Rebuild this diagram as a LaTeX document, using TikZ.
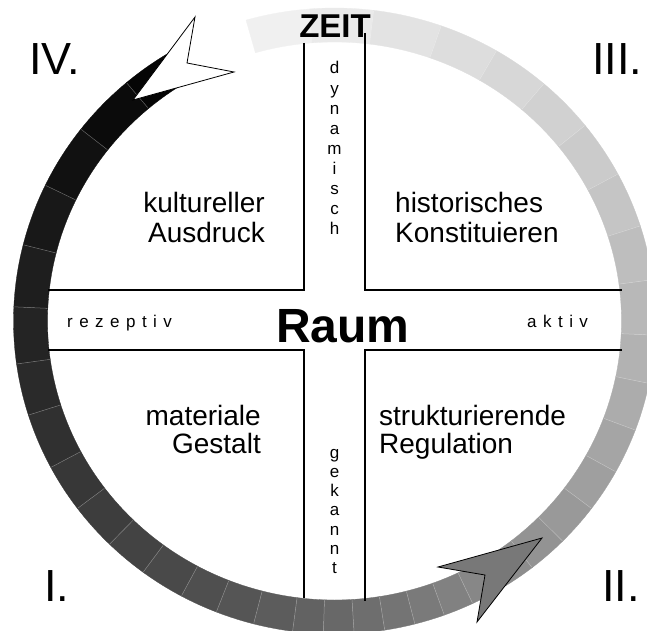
\documentclass[tikz,border=0pt]{standalone}
\usepackage{fontspec}
\setmainfont{Liberation Sans}
\begin{document}
\begin{tikzpicture}[x=1pt,y=1pt,
  lbl/.style={font=\fontsize{28}{30}\selectfont, inner sep=0pt},
  num/.style={font=\fontsize{45}{48}\selectfont, inner sep=0pt},
  vlet/.style={font=\fontsize{17}{19}\selectfont, inner sep=0pt},
  spaced/.style={font=\fontsize{17}{19}\selectfont\addfontfeature{LetterSpace=38}, inner sep=0pt},
  crossline/.style={line width=1.3pt},
  seam/.style={white, opacity=0.35, line width=0.5pt},
  arrowhd/.style={draw=black, line width=0.8pt, line join=miter}]
\useasboundingbox (0,0) rectangle (647,630);
\coordinate (C) at (334.5,309);
% ring of graded segments
\begin{scope}[shift={(C)}]
  \foreach \a/\b [count=\i from 0] in {106/94.5, 94.5/83, 83/70.6, 70.6/59.7, 59.7/49.3, 49.3/38.7, 38.7/28, 28/17.7, 17.7/7.6, 7.6/-2.6, -2.6/-11.5, -11.5/-20.4, -20.4/-28.8, -28.8/-36.8, -36.8/-44.7, -44.7/-52, -52/-58.5, -58.5/-64.5, -64.5/-70, -70/-75.5, -75.5/-81, -81/-86.5, -86.5/-92, -92/-97.5, -97.5/-104.6, -104.6/-111.6, -111.6/-118.5, -118.5/-126.6, -126.6/-134.5, -134.5/-143.2, -143.2/-152.1, -152.1/-162.5, -162.5/-172.1, -172.1/-182.6, -182.6/-194.1, -194.1/-205.7, -205.7/-217.8, -217.8/-229.6, -229.6/-239.5}{
    \pgfmathsetmacro{\k}{6+\i*92/38}
    \fill[black!\k, draw=black!\k, line width=0.3pt] (\a:321pt and 313pt) arc[start angle=\a, end angle=\b, x radius=321pt, y radius=313pt] -- (\b:287pt and 279pt) arc[start angle=\b, end angle=\a, x radius=287pt, y radius=279pt] -- cycle;
  }
  \foreach \s in {94.5, 83, 70.6, 59.7, 49.3, 38.7, 28, 17.7, 7.6, -2.6, -11.5, -20.4, -28.8, -36.8, -44.7, -52, -58.5, -64.5, -70, -75.5, -81, -86.5, -92, -97.5, -104.6, -111.6, -118.5, -126.6, -134.5, -143.2, -152.1, -162.5, -172.1, -182.6, -194.1, -205.7, -217.8, -229.6}{
    \draw[seam] (\s:287.5pt and 279.5pt) -- (\s:320.5pt and 312.5pt);
  }
\end{scope}
% cross
\coordinate (tl1) at (304,587); \coordinate (tl2) at (304,340); \coordinate (tl3) at (48,340);
\coordinate (tr1) at (365,597); \coordinate (tr2) at (365,340); \coordinate (tr3) at (622,340);
\coordinate (bl1) at (48,280); \coordinate (bl2) at (304,280); \coordinate (bl3) at (304,32);
\coordinate (br1) at (622,280); \coordinate (br2) at (365,280); \coordinate (br3) at (365,29);
\draw[crossline] (tl1) -- (tl2) -- (tl3);
\draw[crossline] (tr1) -- (tr2) -- (tr3);
\draw[crossline] (bl1) -- (bl2) -- (bl3);
\draw[crossline] (br1) -- (br2) -- (br3);
% arrowheads
\coordinate (wt) at (133,530); \coordinate (wb1) at (195,613); \coordinate (wn) at (187,567); \coordinate (wb2) at (234,558);
\draw[arrowhd, fill=white] (wt) -- (wb1) -- (wn) -- (wb2) -- cycle;
\coordinate (gt) at (542,92); \coordinate (gb1) at (438,63); \coordinate (gn) at (485,55); \coordinate (gb2) at (477,8);
\draw[arrowhd, fill=black!53] (gt) -- (gb1) -- (gn) -- (gb2) -- cycle;
% texts
\node[font=\fontsize{33}{36}\selectfont\bfseries, inner sep=0pt, anchor=base] (zeit) at (335,592) {ZEIT};
\node[font=\fontsize{48}{52}\selectfont\bfseries, inner sep=0pt, anchor=base] (raum) at (343,288) {Raum};
\node[num, anchor=base west] (n4) at (29,555) {IV.};
\node[num, anchor=base west] (n3) at (592,555) {III.};
\node[num, anchor=base west] (n1) at (44,29) {I.};
\node[num, anchor=base west] (n2) at (602,29) {II.};
\node[lbl, anchor=base east] (k1) at (265,417) {kultureller};
\node[lbl, anchor=base east] (k2) at (265,388) {Ausdruck};
\node[lbl, anchor=base west] (h1) at (395,417) {historisches};
\node[lbl, anchor=base west] (h2) at (395,388) {Konstituieren};
\node[lbl, anchor=base east] (m1) at (261,205) {materiale};
\node[lbl, anchor=base east] (m2) at (261,177) {Gestalt};
\node[lbl, anchor=base west] (s1) at (379,205) {strukturierende};
\node[lbl, anchor=base west] (s2) at (379,177) {Regulation};
\foreach \c [count=\j from 0] in {d,y,n,a,m,i,s,c,h}{
  \node[vlet, anchor=base] (dyn\j) at (334.5,556-\j*20.1) {\c};
}
\foreach \c [count=\j from 0] in {g,e,k,a,n,n,t}{
  \node[vlet, anchor=base] (gek\j) at (334.5,171.4-\j*19.1) {\c};
}
\node[spaced, anchor=base west] (rez) at (67,303) {rezeptiv};
\node[spaced, anchor=base west] (akt) at (527,303) {aktiv};
\end{tikzpicture}
\end{document}
